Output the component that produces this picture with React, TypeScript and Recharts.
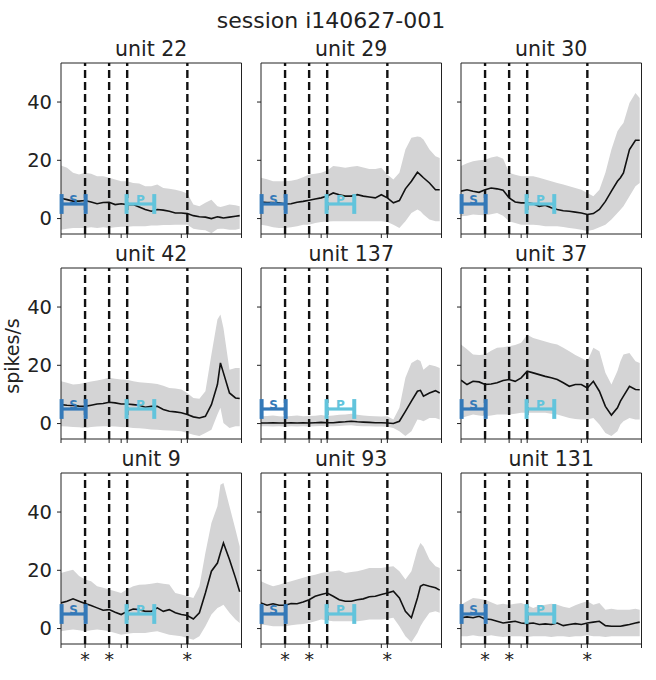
import React from "react";
import { ComposedChart, Area, Line, XAxis, YAxis, ReferenceLine, ReferenceArea } from "recharts";

const FONT = "'DejaVu Sans', sans-serif";
const BAND_COLOR = "#d4d4d5";
const LINE_COLOR = "#111111";
const AXIS_COLOR = "#222222";
const S_COLOR = "#3479b8";
const P_COLOR = "#62c4dc";

// time axis (s), shared by every unit
const TIME = [0, 0.1, 0.2, 0.3, 0.4, 0.5, 0.6, 0.7, 0.8, 0.9, 1.0, 1.1, 1.2, 1.3, 1.4, 1.5, 1.6, 1.7, 1.8, 1.9, 2.0, 2.1, 2.2, 2.3, 2.4, 2.5, 2.6, 2.65, 2.7, 2.8, 2.9, 2.97];
const EVENT_TIMES = [0.4, 0.8, 1.1, 2.1];
const STARRED_EVENTS = [0.4, 0.8, 2.1];
const MAJOR_TICKS = [0, 1, 2, 3];
const Y_TICKS = [0, 20, 40];
const X_DOMAIN = [0, 3];
const Y_DOMAIN = [-5.3, 53.4];
const S_SPAN = [0.01, 0.41];
const P_SPAN = [1.09, 1.55];
const MARKER_Y = 5;
const MARKER_CAP = 3.4;

// unit 22
const U22_MEAN = [7.0, 6.5, 6.0, 6.0, 6.2, 5.7, 5.1, 5.5, 5.6, 4.8, 5.1, 4.8, 4.8, 4.0, 3.1, 2.5, 3.1, 2.9, 2.5, 1.9, 1.9, 1.7, 1.0, 0.6, 0.5, 0.0, 0.6, 0.4, 0.2, 0.5, 0.8, 1.0];
const U22_UPPER = [18.2, 17.4, 15.7, 15.1, 15.7, 15.4, 14.5, 14.5, 14.0, 13.4, 12.8, 12.8, 12.2, 12.0, 11.1, 11.1, 11.7, 10.5, 10.2, 9.9, 9.4, 8.6, 4.8, 4.2, 5.4, 6.5, 4.2, 4.0, 4.2, 4.8, 4.6, 4.2];
const U22_LOWER = [-3.8, -3.5, -3.2, -3.2, -3.2, -3.0, -3.2, -3.0, -3.2, -3.0, -2.8, -2.8, -2.6, -2.6, -2.6, -2.4, -2.4, -2.2, -2.2, -2.1, -2.1, -2.1, -3.5, -3.8, -4.0, -5.0, -3.6, -3.5, -3.5, -3.8, -3.8, -3.5];

// unit 29
const U29_MEAN = [5.7, 5.5, 5.5, 5.4, 5.0, 5.1, 5.6, 5.9, 6.3, 6.7, 7.1, 7.7, 8.8, 8.2, 7.7, 7.7, 8.2, 7.7, 7.4, 7.1, 8.2, 7.1, 5.4, 6.2, 10.2, 12.8, 15.9, 15.0, 14.0, 12.2, 9.9, 9.9];
const U29_UPPER = [14.0, 13.5, 12.8, 12.8, 12.8, 13.0, 13.4, 14.2, 15.1, 15.4, 15.7, 16.5, 18.0, 17.8, 17.4, 17.8, 18.0, 17.5, 17.0, 17.0, 17.4, 15.1, 13.4, 15.7, 23.7, 27.7, 28.2, 28.0, 27.1, 23.7, 21.4, 20.8];
const U29_LOWER = [-2.1, -2.5, -3.0, -3.2, -3.2, -3.0, -2.6, -2.1, -2.1, -1.5, -1.2, -1.0, -0.9, -0.9, -0.9, -0.9, -0.9, -0.9, -0.9, -0.9, -0.9, -1.2, -2.1, -3.2, -0.9, 1.9, 3.1, 2.5, 1.4, -0.3, -0.9, -0.9];

// unit 30
const U30_MEAN = [9.4, 9.9, 9.4, 9.0, 9.9, 10.5, 10.2, 9.7, 7.1, 5.7, 5.4, 5.4, 5.1, 4.2, 4.6, 3.7, 3.1, 2.7, 2.5, 2.2, 1.9, 1.4, 1.7, 3.1, 5.9, 9.4, 12.8, 14.0, 15.7, 23.7, 26.9, 26.9];
const U30_UPPER = [18.0, 19.0, 19.7, 20.0, 20.2, 21.0, 21.4, 20.5, 15.7, 15.0, 14.5, 14.5, 14.5, 14.0, 13.4, 12.8, 12.2, 11.7, 11.1, 10.5, 9.9, 8.8, 7.7, 9.9, 15.7, 23.7, 30.0, 31.5, 32.8, 39.7, 43.1, 41.4];
const U30_LOWER = [0.8, 1.0, 1.4, 1.2, 1.1, 1.5, 1.9, 1.0, -0.9, -1.5, -2.1, -2.1, -2.1, -2.3, -2.6, -2.6, -2.6, -2.9, -3.2, -3.5, -3.8, -4.3, -3.8, -3.0, -2.1, -0.3, 1.9, 3.0, 4.2, 7.7, 11.1, 12.2];

// unit 42
const U42_MEAN = [6.5, 6.3, 6.2, 6.0, 5.9, 6.3, 6.7, 6.9, 7.3, 7.1, 6.7, 6.7, 6.5, 6.3, 5.6, 5.9, 5.9, 4.8, 4.2, 4.0, 3.7, 3.1, 2.3, 1.9, 2.5, 6.5, 13.4, 20.8, 17.4, 10.5, 8.8, 8.6];
const U42_UPPER = [14.5, 14.0, 13.4, 13.6, 14.0, 14.4, 14.8, 15.2, 15.7, 15.4, 15.1, 15.0, 14.5, 14.2, 14.0, 13.8, 13.6, 13.0, 12.2, 12.0, 11.7, 10.5, 8.8, 8.5, 11.1, 23.7, 35.7, 37.4, 32.8, 18.5, 19.1, 19.1];
const U42_LOWER = [-0.9, -1.0, -1.2, -1.3, -1.5, -1.2, -1.0, -0.9, -0.9, -1.0, -1.2, -1.3, -1.5, -1.6, -1.8, -2.0, -2.1, -2.3, -2.4, -2.5, -2.6, -3.2, -3.8, -4.3, -3.2, -2.1, 3.1, 5.4, 0.2, -1.5, -0.9, -0.9];

// unit 137
const U137_MEAN = [0.2, 0.2, 0.3, 0.2, 0.2, 0.3, 0.2, 0.3, 0.2, 0.3, 0.4, 0.3, 0.3, 0.5, 0.6, 0.8, 0.6, 0.5, 0.4, 0.3, 0.3, 0.2, 0.0, 0.8, 4.2, 7.7, 11.1, 11.4, 9.4, 10.5, 11.3, 10.5];
const U137_UPPER = [2.5, 2.6, 2.8, 2.5, 2.4, 2.6, 2.8, 2.5, 2.6, 2.7, 2.9, 2.6, 2.8, 3.0, 3.1, 3.4, 3.0, 2.8, 2.6, 2.5, 2.4, 2.5, 1.4, 5.4, 15.7, 20.8, 22.0, 21.5, 18.5, 20.2, 19.7, 19.1];
const U137_LOWER = [-0.9, -0.9, -1.0, -0.9, -1.1, -0.9, -1.0, -0.9, -1.0, -0.9, -0.8, -0.9, -0.9, -0.8, -0.7, -0.6, -0.8, -0.9, -0.9, -1.0, -1.0, -1.1, -1.5, -2.6, -4.3, -2.6, 1.4, 1.2, 0.8, 1.9, 1.9, 1.4];

// unit 37
const U37_MEAN = [14.9, 13.4, 14.5, 14.3, 13.4, 13.6, 14.0, 14.8, 15.1, 14.5, 15.7, 18.0, 17.4, 16.8, 16.2, 15.7, 15.1, 14.0, 12.8, 13.4, 13.4, 12.2, 14.5, 11.1, 5.9, 2.9, 5.4, 7.7, 9.4, 12.8, 11.7, 11.6];
const U37_UPPER = [27.1, 25.5, 23.7, 23.5, 23.7, 25.0, 26.0, 26.2, 26.5, 27.0, 27.7, 30.5, 29.4, 28.8, 28.2, 27.6, 27.1, 26.0, 24.8, 23.5, 22.5, 21.4, 26.0, 24.8, 17.4, 13.4, 18.0, 21.4, 23.7, 24.2, 21.4, 20.8];
const U37_LOWER = [1.9, 2.5, 3.1, 2.8, 2.5, 2.8, 3.1, 3.1, 3.1, 3.4, 3.7, 3.7, 3.7, 3.7, 3.7, 3.4, 3.1, 2.5, 1.9, 1.6, 1.4, 1.4, 1.9, -0.3, -3.2, -4.3, -2.6, -0.3, 0.8, 1.9, 1.4, 1.4];

// unit 9
const U9_MEAN = [8.8, 9.4, 10.2, 9.4, 8.6, 7.9, 7.1, 6.3, 6.5, 5.6, 4.8, 5.9, 6.7, 6.5, 5.9, 5.9, 7.1, 5.9, 6.5, 5.4, 4.8, 4.5, 3.3, 5.4, 12.2, 19.7, 22.5, 26.0, 29.4, 23.7, 17.4, 12.6];
const U9_UPPER = [19.1, 19.7, 20.2, 18.0, 16.8, 16.2, 14.5, 14.0, 13.4, 12.8, 12.2, 13.5, 14.5, 15.0, 15.1, 15.4, 15.7, 15.4, 15.1, 12.2, 11.7, 11.1, 10.5, 14.5, 26.0, 36.2, 42.0, 49.4, 50.0, 42.0, 34.0, 28.2];
const U9_LOWER = [-0.9, -0.6, -0.3, -0.6, -0.9, -0.6, -0.3, -0.6, -0.9, -1.5, -2.1, -1.8, -1.5, -1.5, -1.5, -1.2, -0.9, -1.5, -2.1, -2.4, -2.6, -3.2, -3.8, -2.6, 0.8, 4.8, 7.1, 7.6, 8.2, 5.4, 3.1, 1.9];

// unit 93
const U93_MEAN = [8.8, 8.0, 8.5, 8.0, 8.0, 8.6, 8.5, 9.1, 9.9, 11.1, 11.7, 12.2, 11.1, 9.9, 9.4, 9.4, 9.9, 10.2, 10.9, 11.1, 11.7, 12.2, 12.8, 10.5, 5.9, 3.7, 10.5, 14.5, 15.1, 14.5, 14.0, 13.2];
const U93_UPPER = [16.2, 15.3, 14.5, 15.0, 15.7, 16.2, 16.8, 17.4, 18.0, 18.5, 19.1, 19.4, 19.7, 19.9, 19.1, 19.4, 19.7, 20.2, 20.8, 20.8, 20.8, 21.1, 21.4, 19.7, 16.8, 19.7, 27.1, 29.4, 28.2, 23.7, 21.4, 20.8];
const U93_LOWER = [1.4, 1.1, 0.8, 0.8, 0.8, 1.1, 1.4, 1.6, 1.9, 2.5, 3.1, 2.8, 2.5, 2.5, 2.5, 2.5, 2.5, 2.8, 3.1, 3.1, 3.1, 3.4, 3.7, 0.8, -2.6, -4.7, -1.5, 0.8, 2.5, 5.4, 5.9, 5.4];

// unit 131
const U131_MEAN = [3.7, 4.0, 3.7, 4.2, 3.3, 3.1, 2.5, 1.9, 2.2, 2.5, 1.9, 1.7, 1.9, 1.4, 1.6, 1.4, 1.9, 1.0, 1.4, 1.7, 1.4, 1.9, 2.2, 2.5, 1.0, 0.8, 0.8, 0.8, 1.0, 1.4, 1.9, 2.2];
const U131_UPPER = [8.2, 9.4, 10.5, 10.2, 9.9, 9.0, 8.2, 8.5, 8.2, 8.5, 8.8, 8.0, 7.1, 7.8, 8.2, 8.5, 8.2, 7.5, 7.1, 8.0, 8.8, 9.4, 8.2, 8.8, 6.5, 6.8, 6.5, 6.5, 6.5, 6.5, 6.8, 6.5];
const U131_LOWER = [-2.6, -2.6, -2.3, -2.6, -2.6, -2.3, -2.6, -2.9, -2.6, -2.6, -2.6, -2.9, -2.6, -2.6, -2.6, -2.9, -2.6, -2.6, -2.9, -2.6, -2.6, -2.3, -2.6, -2.6, -2.9, -2.6, -2.6, -2.6, -2.6, -2.6, -2.6, -2.6];

const UNITS = [
  { title: "unit 22", mean: U22_MEAN, upper: U22_UPPER, lower: U22_LOWER },
  { title: "unit 29", mean: U29_MEAN, upper: U29_UPPER, lower: U29_LOWER },
  { title: "unit 30", mean: U30_MEAN, upper: U30_UPPER, lower: U30_LOWER },
  { title: "unit 42", mean: U42_MEAN, upper: U42_UPPER, lower: U42_LOWER },
  { title: "unit 137", mean: U137_MEAN, upper: U137_UPPER, lower: U137_LOWER },
  { title: "unit 37", mean: U37_MEAN, upper: U37_UPPER, lower: U37_LOWER },
  { title: "unit 9", mean: U9_MEAN, upper: U9_UPPER, lower: U9_LOWER },
  { title: "unit 93", mean: U93_MEAN, upper: U93_UPPER, lower: U93_LOWER },
  { title: "unit 131", mean: U131_MEAN, upper: U131_UPPER, lower: U131_LOWER },
];

// layout
const COL_LEFT = [61, 261, 461];
const ROW_TOP = [63.4, 268.4, 473.4];
const PLOT_W = 180.5;
const PLOT_H = 171;
const Y_AXIS_W = 50;
const X_AXIS_H = 35;
const M_TOP = 5;
const M_RIGHT = 8;

const X_TICKS = [...MAJOR_TICKS, ...EVENT_TIMES].sort((a, b) => a - b);

const Bracket = (span: number[], color: string, letter: string) => [
  <ReferenceLine
    key={letter + "-h"}
    segment={[{ x: span[0], y: MARKER_Y }, { x: span[1], y: MARKER_Y }]}
    stroke={color}
    strokeWidth={3.2}
    label={{ value: letter, position: "top", offset: 0, fill: color, fontSize: 12, fontWeight: "bold", fontFamily: FONT }}
  />,
  <ReferenceLine
    key={letter + "-l"}
    segment={[{ x: span[0], y: MARKER_Y - MARKER_CAP }, { x: span[0], y: MARKER_Y + MARKER_CAP }]}
    stroke={color}
    strokeWidth={4}
  />,
  <ReferenceLine
    key={letter + "-r"}
    segment={[{ x: span[1], y: MARKER_Y - MARKER_CAP }, { x: span[1], y: MARKER_Y + MARKER_CAP }]}
    stroke={color}
    strokeWidth={4}
  />,
];

const Panel = ({ unit, col, row }: { unit: any; col: number; row: number }) => {
  const rows = TIME.map((t, i) => ({ t, band: [unit.lower[i], unit.upper[i]], mean: unit.mean[i] }));
  const showYLabels = col === 0;
  const showStars = row === 2;

  const xTick = (props: any) => {
    const { x, y, payload } = props;
    if (!showStars || !STARRED_EVENTS.includes(payload.value)) return <g />;
    return (
      <text x={x} y={y} dy="0.71em" textAnchor="middle" fontSize={19} fill={AXIS_COLOR} fontFamily={FONT}>
        *
      </text>
    );
  };

  return (
    <div style={{ position: "absolute", left: COL_LEFT[col] - Y_AXIS_W, top: ROW_TOP[row] - M_TOP }}>
      <ComposedChart
        width={Y_AXIS_W + PLOT_W + M_RIGHT}
        height={M_TOP + PLOT_H + X_AXIS_H}
        data={rows}
        margin={{ top: M_TOP, right: M_RIGHT, bottom: 0, left: 0 }}
      >
        <XAxis
          type="number"
          dataKey="t"
          domain={X_DOMAIN}
          ticks={X_TICKS}
          interval={0}
          allowDataOverflow
          axisLine={false}
          tickLine={{ stroke: AXIS_COLOR }}
          tickSize={4}
          tickMargin={5}
          height={X_AXIS_H}
          tick={xTick}
        />
        <YAxis
          type="number"
          domain={Y_DOMAIN}
          ticks={Y_TICKS}
          interval={0}
          allowDataOverflow
          axisLine={false}
          tickLine={{ stroke: AXIS_COLOR }}
          tickSize={4}
          tickMargin={5}
          width={Y_AXIS_W}
          tick={showYLabels ? { fontSize: 19.5, fill: AXIS_COLOR, fontFamily: FONT } : () => <g />}
        />
        <Area type="linear" dataKey="band" fill={BAND_COLOR} fillOpacity={1} stroke="none" activeDot={false} isAnimationActive={false} />
        {EVENT_TIMES.map((t) => (
          <ReferenceLine key={t} x={t} stroke={LINE_COLOR} strokeWidth={2.4} strokeDasharray="8 4" />
        ))}
        <Line type="linear" dataKey="mean" stroke={LINE_COLOR} strokeWidth={1.6} dot={false} activeDot={false} isAnimationActive={false} />
        {Bracket(S_SPAN, S_COLOR, "S")}
        {Bracket(P_SPAN, P_COLOR, "P")}
        <ReferenceArea
          x1={X_DOMAIN[0]}
          x2={X_DOMAIN[1]}
          y1={Y_DOMAIN[0]}
          y2={Y_DOMAIN[1]}
          fill="none"
          fillOpacity={0}
          stroke={AXIS_COLOR}
          strokeWidth={1}
          ifOverflow="visible"
        />
      </ComposedChart>
    </div>
  );
};

export default function App() {
  return (
    <div style={{ position: "absolute", left: 0, top: 0, width: 656, height: 680, background: "#fff", fontFamily: FONT }}>
      {UNITS.map((u, i) => (
        <Panel key={u.title} unit={u} col={i % 3} row={Math.floor(i / 3)} />
      ))}
      <svg width={656} height={680} style={{ position: "absolute", left: 0, top: 0, pointerEvents: "none" }}>
        <text x={331} y={28} textAnchor="middle" fontSize={22} fill={AXIS_COLOR} fontFamily={FONT}>
          session i140627-001
        </text>
        {UNITS.map((u, i) => (
          <text
            key={u.title}
            x={COL_LEFT[i % 3] + PLOT_W / 2}
            y={ROW_TOP[Math.floor(i / 3)] - 7}
            textAnchor="middle"
            fontSize={20.5}
            fill={AXIS_COLOR}
            fontFamily={FONT}
          >
            {u.title}
          </text>
        ))}
        <text x={19} y={356} transform="rotate(-90 19 356)" textAnchor="middle" fontSize={19} fill={AXIS_COLOR} fontFamily={FONT}>
          spikes/s
        </text>
      </svg>
    </div>
  );
}
